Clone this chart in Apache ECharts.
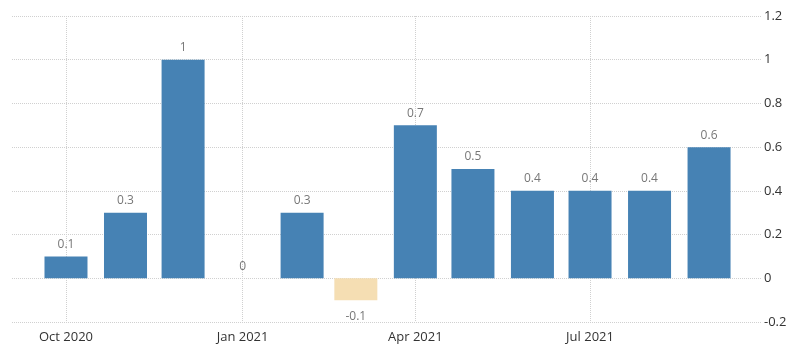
<!DOCTYPE html>
<html>
<head>
<meta charset="utf-8">
<script src="https://cdn.jsdelivr.net/npm/echarts@6/dist/echarts.min.js"></script>
<style>html,body{margin:0;padding:0;background:#fff}#c{width:800px;height:359px}</style>
</head>
<body>
<div id="c"></div>
<script>
// Months (year, monthIndex 0-based) and values
const months = [[2020,9],[2020,10],[2020,11],[2021,0],[2021,1],[2021,2],[2021,3],[2021,4],[2021,5],[2021,6],[2021,7],[2021,8]];
const values = [0.1, 0.3, 1, 0, 0.3, -0.1, 0.7, 0.5, 0.4, 0.4, 0.4, 0.6];
const tickMonths = [[2020,9],[2021,0],[2021,3],[2021,6]];
const tickLabels = ['Oct 2020', 'Jan 2021', 'Apr 2021', 'Jul 2021'];
const yTicks = [-0.2, 0, 0.2, 0.4, 0.6, 0.8, 1, 1.2];

const DAY = 86400000;
const ts = m => Date.UTC(m[0], m[1], 1) / DAY; // days since epoch
const data = months.map((m, i) => ({
  value: [ts(m), values[i]],
  itemStyle: { color: values[i] < 0 ? '#F5DEB3' : '#4682B4' },
  label: values[i] < 0 ? { position: 'bottom', distance: 10 } : { position: 'top' }
}));
const tickVals = tickMonths.map(ts);

const chart = echarts.init(document.getElementById('c'), null, { renderer: 'canvas' });
chart.setOption({
  animation: false,
  backgroundColor: '#fff',
  grid: { left: 12, right: 38, top: 16, bottom: 37, containLabel: false },
  xAxis: {
    type: 'value',
    min: Date.UTC(2020, 8, 2, 21) / DAY,
    max: Date.UTC(2021, 8, 28, 14) / DAY,
    axisLine: { show: false },
    axisTick: { show: false, customValues: tickVals },
    axisLabel: {
      customValues: tickVals,
      color: '#333',
      fontSize: 13,
      fontFamily: 'Open Sans, sans-serif',
      margin: 9,
      formatter: v => { const i = tickVals.indexOf(v); return i >= 0 ? tickLabels[i] : ''; }
    },
    splitLine: { show: true, lineStyle: { color: '#d0d0d0', type: 'dotted', width: 1 } }
  },
  yAxis: {
    type: 'value',
    position: 'right',
    min: -0.2, max: 1.2, interval: 0.2,
    axisLine: { show: false },
    axisTick: { show: false },
    axisLabel: {
      color: '#333', fontSize: 13, fontFamily: 'Open Sans, sans-serif', margin: 2,
      formatter: v => String(Math.round(v * 10) / 10)
    },
    splitLine: { show: true, lineStyle: { color: '#d0d0d0', type: 'dotted', width: 1 } }
  },
  series: [{
    type: 'bar',
    barWidth: 43,
    data: data,
    label: {
      show: true,
      color: '#777',
      fontSize: 12,
      fontFamily: 'Open Sans, sans-serif',
      distance: 6,
      formatter: p => String(p.value[1])
    }
  }]
});
</script>
</body>
</html>
